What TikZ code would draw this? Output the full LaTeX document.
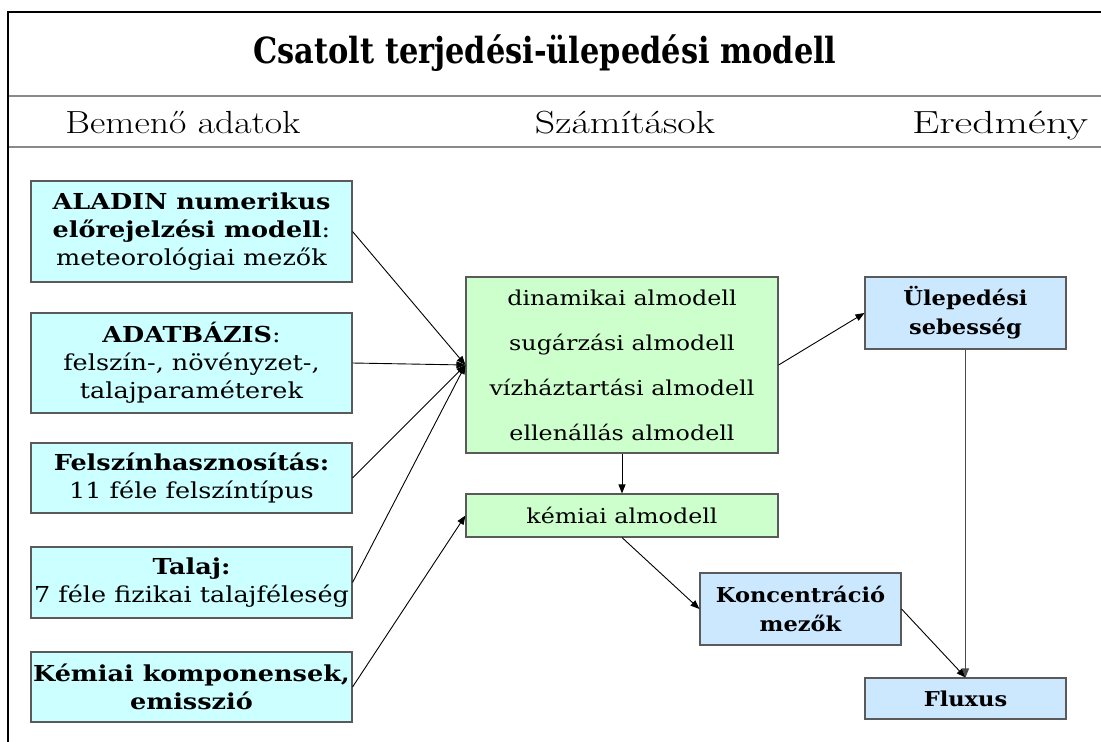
\documentclass[tikz,border=0pt]{standalone}
\usepackage{fontspec}
\usepackage{graphicx}
\usetikzlibrary{arrows.meta}
\newfontfamily\boxfont{DejaVu Serif}[FakeStretch=1.16]
\newfontfamily\outfont{DejaVu Serif}[FakeStretch=1.1]
\newfontfamily\titlefont{DejaVu Serif}
\definecolor{cyanfill}{HTML}{CCFFFF}
\definecolor{greenfill}{HTML}{CCFFCC}
\definecolor{bluefill}{HTML}{CCE8FF}
\definecolor{boxline}{HTML}{5A5A5A}
\definecolor{rule}{HTML}{8A8A8A}
\newcommand{\fitw}[2]{\resizebox{#1}{\height}{#2}}
\tikzset{
  basebox/.style={draw=boxline, line width=1.1pt, inner sep=0pt, align=center},
  inbox/.style={basebox, fill=cyanfill, minimum width=321pt,
    font=\boxfont\fontsize{22}{28}\selectfont},
  calcbox/.style={basebox, fill=greenfill, minimum width=312pt,
    font=\boxfont\fontsize{20.5}{45}\selectfont},
  outbox/.style={basebox, fill=bluefill, minimum width=201pt,
    font=\outfont\bfseries\fontsize{20.5}{29}\selectfont},
  conn/.style={draw=black, line width=0.9pt, -{Triangle[length=9pt,width=7pt]}},
  hdr/.style={anchor=base, inner sep=0pt, font=\fontsize{32}{36}\selectfont},
}
\begin{document}
\begin{tikzpicture}[x=1pt,y=-1pt]
\useasboundingbox (0,0) rectangle (1101,742);
\fill[white] (0,0) rectangle (1101,742);
% frame
\coordinate (fTL) at (8,12);
\coordinate (fTR) at (1101,12);
\coordinate (fBL) at (8,742);
\coordinate (r1L) at (8,96);
\coordinate (r1R) at (1101,96);
\coordinate (r2L) at (8,147);
\coordinate (r2R) at (1101,147);
\draw[rule, line width=1.6pt] (r1L) -- (r1R);
\draw[rule, line width=1.6pt] (r2L) -- (r2R);
\draw[black, line width=2.2pt] (fBL) -- (fTL) -- (fTR);
% title and headers
\node[anchor=base, inner sep=0pt, font=\titlefont\bfseries\fontsize{36}{40}\selectfont] (title) at (545,63) {\fitw{583pt}{Csatolt terjedési-ülepedési modell}};
\node[hdr] (h1) at (183,133) {\fitw{235pt}{Bemenő adatok}};
\node[hdr] (h2) at (625,133) {\fitw{180pt}{Számítások}};
\node[hdr] (h3) at (1000,133) {\fitw{176pt}{Eredmény}};
% input boxes
\node[inbox, minimum height=101pt] (b1) at (191.5,231.5) {{\bfseries ALADIN numerikus}\\{\bfseries előrejelzési modell}:\\meteorológiai mezők};
\node[inbox, minimum height=100pt] (b2) at (191.5,363) {{\bfseries ADATBÁZIS}:\\felszín-, növényzet-,\\talajparaméterek};
\node[inbox, minimum height=70pt] (b3) at (191.5,478) {{\bfseries Felszínhasznosítás:}\\11 féle felszíntípus};
\node[inbox, minimum height=71pt] (b4) at (191.5,582.5) {{\bfseries Talaj:}\\7 féle fizikai talajféleség};
\node[inbox, minimum height=70pt] (b5) at (191.5,687) {{\bfseries Kémiai komponensek,}\\{\bfseries emisszió}};
% calculation boxes
\node[calcbox, minimum height=176pt] (main) at (622,365) {dinamikai almodell\\sugárzási almodell\\vízháztartási almodell\\ellenállás almodell};
\node[calcbox, minimum height=43pt] (kem) at (622,515.5) {kémiai almodell};
% output boxes
\node[outbox, minimum height=72pt] (ule) at (965.5,313) {Ülepedési\\sebesség};
\node[outbox, minimum height=72pt] (konc) at (800.5,609) {Koncentráció\\mezők};
\node[outbox, minimum height=41pt] (flux) at (965.5,698.5) {Fluxus};
% connectors
\draw[conn] (b1.east) -- (main.west);
\draw[conn] (b2.east) -- (main.west);
\draw[conn] (b3.east) -- (main.west);
\draw[conn] (b4.east) -- (main.west);
\draw[conn] (b5.east) -- (kem.west);
\draw[conn] (main.south) -- (kem.north);
\draw[conn] (main.east) -- (ule.west);
\draw[conn] (kem.south) -- (konc.west);
\draw[conn] (konc.east) -- (flux.north);
\draw[conn, draw=black!70] (ule.south) -- (flux.north);
\end{tikzpicture}
\end{document}
